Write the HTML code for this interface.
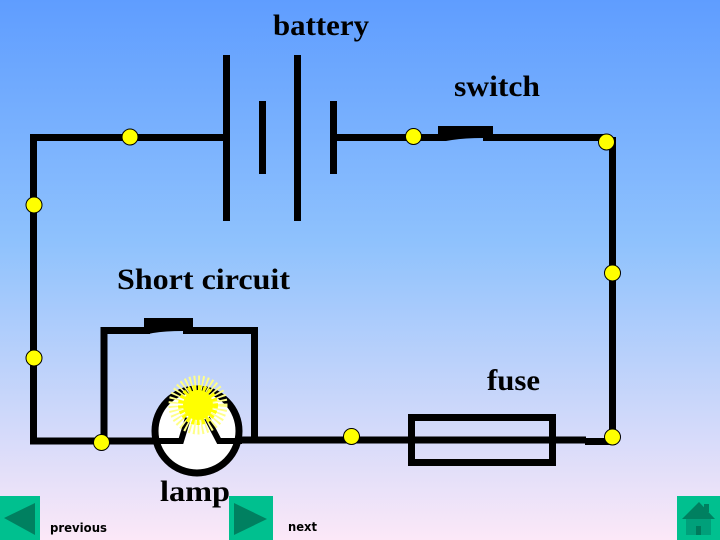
<!DOCTYPE html>
<html>
<head>
<meta charset="utf-8">
<style>
html,body{margin:0;padding:0;width:720px;height:540px;overflow:hidden}
svg{display:block}
.s{font-family:"Liberation Serif",serif;font-weight:bold;font-size:30px;fill:#000}
.v{font-family:"DejaVu Sans",sans-serif;font-weight:bold;font-size:12px;fill:#000}
</style>
</head>
<body>
<svg width="720" height="540" viewBox="0 0 720 540" xmlns="http://www.w3.org/2000/svg">
<defs>
<linearGradient id="bg" x1="0" y1="0" x2="0" y2="1">
<stop offset="0" stop-color="#5f9dff"/>
<stop offset="0.45" stop-color="#8fc2fd"/>
<stop offset="1" stop-color="#fce8f8"/>
</linearGradient>
</defs>
<rect width="720" height="540" fill="url(#bg)"/>

<g stroke="#000" stroke-width="7" fill="none">
<!-- battery -->
<path d="M226.500 55V221M262.500 101V174M297.500 55V221M333.500 101V174"/>
<!-- main wire -->
<path d="M226 137.500H33.500V441H183"/>
<path d="M333 137.500H446M483 137.500H608M612.500 137V441.500H585"/>
<path d="M586 440H220"/>
<!-- short circuit loop -->
<path d="M104 441V330.500H150M183 330.500H254.500V441"/>
<!-- fuse -->
<rect x="411.500" y="417.500" width="141" height="45"/>
</g>

<!-- switches -->
<rect x="438" y="126" width="55" height="10" fill="#000"/>
<path d="M446 134L446 141L452 140Q465 138 483 138L483 134Z" fill="#000"/>
<rect x="144" y="318" width="49" height="11" fill="#000"/>
<path d="M148 327L148 334L153 333Q165 331 183 331L183 327Z" fill="#000"/>

<!-- lamp -->
<circle cx="197" cy="431" r="42" fill="#fff" stroke="#000" stroke-width="7"/>
<path d="M152 441H181L188 418M207 418L219 441H242" fill="none" stroke="#000" stroke-width="6"/>
<!-- pale rays -->
<circle cx="198" cy="405" r="22" fill="none" stroke="#ffff88" stroke-width="15" stroke-dasharray="1.600 2.100"/>
<!-- bright spikes and core -->
<circle cx="198" cy="405" r="17" fill="none" stroke="#ffff00" stroke-width="6" stroke-dasharray="3 2"/>
<circle cx="198" cy="405" r="15" fill="#ffff00"/>

<!-- junction dots -->
<g fill="#ffff00" stroke="#000" stroke-width="1">
<circle cx="130" cy="137" r="8"/>
<circle cx="413.500" cy="136.500" r="8"/>
<circle cx="606.500" cy="142" r="8"/>
<circle cx="34" cy="205" r="8"/>
<circle cx="612.500" cy="273" r="8"/>
<circle cx="34" cy="358" r="8"/>
<circle cx="101.500" cy="442.500" r="8"/>
<circle cx="351.500" cy="436.500" r="8"/>
<circle cx="612.500" cy="437" r="8"/>
</g>

<!-- labels -->
<text class="s" x="273" y="35" textLength="96" lengthAdjust="spacingAndGlyphs">battery</text>
<text class="s" x="454" y="96" textLength="86" lengthAdjust="spacingAndGlyphs">switch</text>
<text class="s" x="117" y="289" textLength="173" lengthAdjust="spacingAndGlyphs">Short circuit</text>
<text class="s" x="487" y="390" textLength="53" lengthAdjust="spacingAndGlyphs">fuse</text>
<text class="s" x="160" y="501" textLength="70" lengthAdjust="spacingAndGlyphs">lamp</text>
<text class="v" x="50" y="532" textLength="57" lengthAdjust="spacingAndGlyphs">previous</text>
<text class="v" x="288" y="531" textLength="29" lengthAdjust="spacingAndGlyphs">next</text>

<!-- nav buttons -->
<rect x="0" y="496" width="40" height="44" fill="#00c08f"/>
<path d="M4 518L35 503V535Z" fill="#008060"/>
<rect x="229" y="496" width="44" height="44" fill="#00c08f"/>
<path d="M234 503L267 519L234 535Z" fill="#008060"/>
<rect x="677" y="496" width="43" height="44" fill="#00c08f"/>
<rect x="704" y="504" width="5" height="8" fill="#008060"/>
<rect x="686" y="518" width="25" height="17" fill="#00a07a"/>
<path d="M682 519L699 502L715 519Z" fill="#008060"/>
<rect x="696" y="526" width="5" height="9" fill="#007a5c"/>
</svg>
</body>
</html>
